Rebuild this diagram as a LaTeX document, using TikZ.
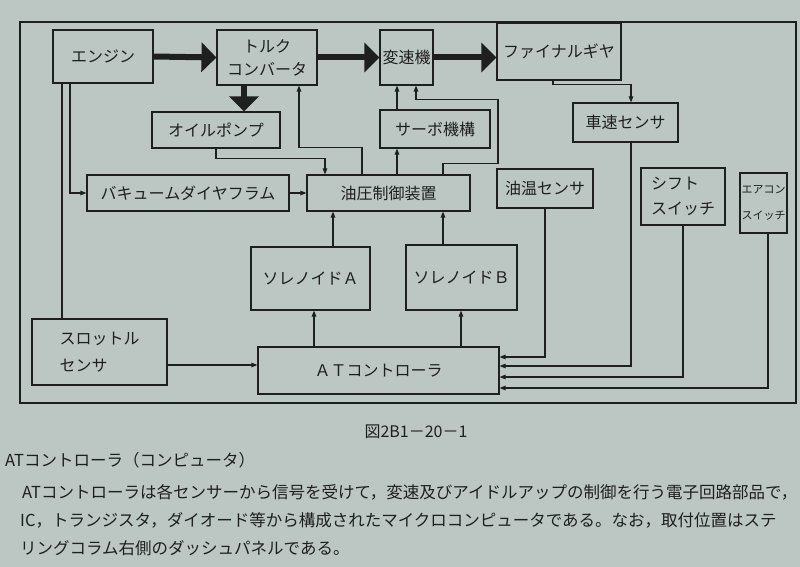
\documentclass[tikz,border=0pt]{standalone}
\usepackage{fontspec}
\newfontfamily\jp{Noto Sans CJK JP}
\usepackage{tikz}
\usetikzlibrary{arrows.meta}
\definecolor{paper}{RGB}{188,198,194}
\definecolor{ink}{RGB}{30,32,32}

\begin{document}
\begin{tikzpicture}[x=1pt,y=-1pt,
  blk/.style={draw=ink,text=ink,line width=1.1pt,inner sep=0pt,align=center,
    font=\jp\fontsize{16}{23}\selectfont},
  sig/.style={draw=ink,line width=1.1pt,-{Triangle[length=6pt,width=4.5pt]}},
  wire/.style={draw=ink,line width=1.1pt},
  thk/.style={draw=ink,line width=6pt,-{Triangle[length=15pt,width=29pt]}},
  txt/.style={text=ink,inner sep=0pt,anchor=west,font=\jp\fontsize{16.5}{20}\selectfont}]
  \useasboundingbox (0,0) rectangle (800,567);
  \clip (0,0) rectangle (800,567);
  \fill[paper] (0,0) rectangle (800,567);
  \draw[ink,line width=1.1pt] (20,22) rectangle (796,403);

  % ブロック
  \node[blk,minimum width=100pt,minimum height=53pt] (eng) at (103,56.5) {エンジン};
  \node[blk,minimum width=100pt,minimum height=55pt] (tc) at (267,57.5) {トルク\\コンバータ};
  \node[blk,minimum width=53pt,minimum height=55pt] (tm) at (406.5,57.5) {変速機};
  \node[blk,minimum width=124pt,minimum height=57pt] (fg) at (559,51.5) {ファイナルギヤ};
  \node[blk,minimum width=128pt,minimum height=36pt] (op) at (216,130) {オイルポンプ};
  \node[blk,minimum width=110pt,minimum height=38pt] (sv) at (435,129) {サーボ機構};
  \node[blk,minimum width=105pt,minimum height=39pt] (vs) at (625.5,122.5) {車速センサ};
  \node[blk,minimum width=163pt,minimum height=36pt] (hyd) at (388.5,193) {油圧制御装置};
  \node[blk,minimum width=202pt,minimum height=36pt] (vac) at (188,193) {バキュームダイヤフラム};
  \node[blk,minimum width=96pt,minimum height=39pt] (ot) at (545,188.5) {油温センサ};
  \node[blk,align=left,minimum width=84pt,minimum height=57pt,
    font=\jp\fontsize{16}{25}\selectfont] (ss) at (683,196.5) {シフト\\スイッチ};
  \node[blk,align=left,minimum width=47pt,minimum height=60pt,
    font=\jp\fontsize{11}{26}\selectfont] (ac) at (763.5,203) {エアコン\\スイッチ};
  \node[blk,minimum width=119pt,minimum height=63pt] (sa) at (310.5,278.5) {ソレノイドＡ};
  \node[blk,minimum width=111pt,minimum height=65pt] (sb) at (461.5,277.5) {ソレノイドＢ};
  \node[blk,align=left,minimum width=135pt,minimum height=66pt,
    font=\jp\fontsize{16}{27}\selectfont] (th) at (99.5,352) {スロットル\\センサ};
  \node[blk,minimum width=241pt,minimum height=47pt] (atc) at (378.5,370.5) {ＡＴコントローラ};

  % 動力の流れ
  \draw[thk] (eng.east) -- (tc.west);
  \draw[thk] (tc.east) -- (tm.west);
  \draw[thk] (tm.east) -- (tm.east -| fg.west);
  \draw[thk] ([xshift=-23pt]tc.south) -- ([xshift=-23pt]tc.south |- op.north);

  % 信号・油圧
  \draw[sig] ([xshift=-6pt]fg.south) -- ++(0,4) -| ([xshift=5.5pt]vs.north);
  \draw[sig] (op.south) -- ++(0,10) -| ([xshift=-63.5pt]hyd.north);
  \draw[sig] ([xshift=-26.5pt]hyd.north) -- ++(0,-27) -| ([xshift=32pt]tc.south);
  \draw[sig] ([xshift=8.5pt]hyd.north) -- ([xshift=8.5pt]hyd.north |- sv.south);
  \draw[sig] ([xshift=-38pt]sv.north) -- ([xshift=-38pt]sv.north |- tm.south);
  \draw[sig] ([xshift=54.5pt]hyd.north) -- ++(0,-11) -| ++(55,-64) -| ([xshift=9.5pt]tm.south);
  \draw[sig] ([xshift=-33pt]eng.south) |- (vac.west);
  \draw[wire] ([xshift=-41pt]eng.south) -- ([xshift=-41pt]eng.south |- th.north);
  \draw[sig] (vac.east) -- (hyd.west);
  \draw[sig] ([xshift=22.5pt]sa.north) -- ([xshift=22.5pt]sa.north |- hyd.south);
  \draw[sig] ([xshift=-18.5pt]sb.north) -- ([xshift=-18.5pt]sb.north |- hyd.south);
  \draw[sig] ([xshift=-64.5pt]atc.north) -- ([xshift=-64.5pt]atc.north |- sa.south);
  \draw[sig] ([xshift=82.5pt]atc.north) -- ([xshift=82.5pt]atc.north |- sb.south);
  \draw[sig] ([yshift=-13pt]th.east) -- ([yshift=-13pt]th.east -| atc.west);
  \draw[sig] (ot.south) |- ([yshift=13.5pt]atc.east);
  \draw[sig] ([xshift=5.5pt]vs.south) |- ([yshift=4.5pt]atc.east);
  \draw[sig] (ss.south) |- ([yshift=-6.5pt]atc.east);
  \draw[sig] ([xshift=4.5pt]ac.south) |- ([yshift=-17.5pt]atc.east);

  % 本文
  \node[txt,anchor=center,font=\jp\fontsize{16}{20}\selectfont] (cap) at (416,432) {図2B1－20－1};
  \node[txt] (head) at (5,460) {ATコントローラ（コンピュータ）};
  \node[txt] (l1) at (22,492) {ATコントローラは各センサーから信号を受けて，変速及びアイドルアップの制御を行う電子回路部品で，};
  \node[txt] (l2) at (20,520) {IC，トランジスタ，ダイオード等から構成されたマイクロコンピュータである。なお，取付位置はステ};
  \node[txt] (l3) at (20,548) {リングコラム右側のダッシュパネルである。};
\end{tikzpicture}
\end{document}
